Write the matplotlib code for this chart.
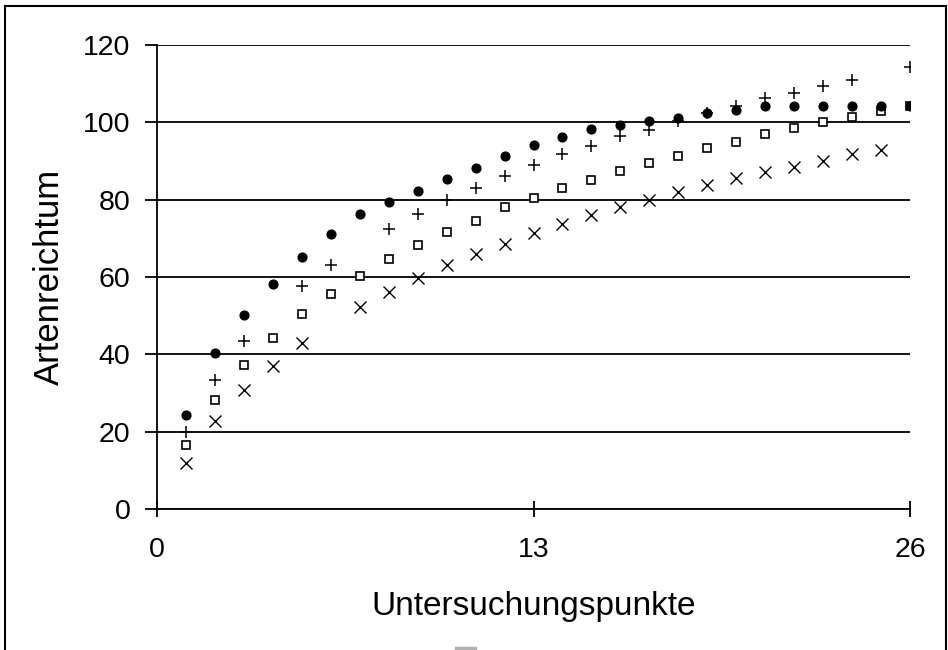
import numpy as np
import matplotlib
matplotlib.use('Agg')
import matplotlib.pyplot as plt
from matplotlib.patches import Rectangle

plt.rcParams['font.family'] = ['Liberation Sans', 'DejaVu Sans']

# Untersuchungspunkte 1..26
punkte = list(range(1, 27))
nan = np.nan

# four series (nan = no marker drawn)
kreis = [24.4, 40.4, 50.1, 58.3, 65.3, 71.1, 76.2, 79.3, 82.3, 85.3, 88.3, 91.3, 94.1,
         96.2, 98.4, 99.2, 100.3, 101.2, 102.3, 103.2, 104.2, 104.2, 104.2, 104.2, 104.2, 104.3]
plus = [19.9, 33.3, 43.4, nan, 57.6, 63.1, nan, 72.5, 76.4, 80.0, 83.1, 86.1, 88.9,
        91.7, 94.0, 96.4, 98.1, 100.3, 102.3, 104.1, 106.2, 107.5, 109.5, 111.0, nan, 114.3]
quadrat = [16.5, 28.3, 37.2, 44.3, 50.5, 55.5, 60.2, 64.6, 68.4, 71.7, 74.6, 78.0, 80.4,
           82.9, 85.2, 87.3, 89.5, 91.4, 93.3, 95.0, 96.9, 98.5, 100.0, 101.5, 102.8, 104.3]
kreuz = [12.0, 22.7, 30.8, 37.1, 42.9, nan, 52.3, 56.2, 59.8, 63.0, 66.0, 68.6, 71.4,
         73.8, 76.1, 78.1, 80.0, 81.9, 83.8, 85.5, 87.1, 88.5, 90.0, 91.7, 92.9, nan]

x_ticks = [0, 13, 26]
y_ticks = [0, 20, 40, 60, 80, 100, 120]

fig = plt.figure(figsize=(9.48, 6.5), dpi=100)
ax = fig.add_axes([0.1656, 0.2169, 0.7944, 0.7139])

for yt in y_ticks:
    ax.axhline(yt, color='black', lw=1.3, zorder=1)

ax.plot(punkte, kreuz, ls='none', marker='x', ms=8.5, mew=1.0, color='black', zorder=3)
ax.plot(punkte, quadrat, ls='none', marker='s', ms=6, mew=1.2, mfc='white', mec='black', zorder=3)
ax.plot(punkte, plus, ls='none', marker='+', ms=9, mew=1.1, color='black', zorder=4)
ax.plot(punkte, kreis, ls='none', marker='o', ms=6.3, color='black', zorder=5)

ax.set_xlim(0, 26)
ax.set_ylim(0, 120)
ax.set_xticks(x_ticks)
ax.set_yticks(y_ticks)
ax.tick_params(axis='y', direction='out', length=9, width=1.3, labelsize=20.5, pad=10)
ax.tick_params(axis='x', direction='inout', length=12, width=1.3, labelsize=20.5, pad=14)

for s in ['top', 'right']:
    ax.spines[s].set_visible(False)
ax.spines['left'].set_linewidth(1.3)
ax.spines['bottom'].set_linewidth(1.3)

ax.set_xlabel('Untersuchungspunkte', fontsize=24, labelpad=20)
ax.set_ylabel('Artenreichtum', fontsize=25, labelpad=12)

# chart frame (open at the bottom) and the clipped grey patch below the label
fig.add_artist(plt.Line2D([0.0055, 0.0055], [0.0, 0.991], color='black', lw=1.5))
fig.add_artist(plt.Line2D([0.0055, 0.998], [0.991, 0.991], color='black', lw=1.5))
fig.add_artist(plt.Line2D([0.998, 0.998], [0.0, 0.991], color='black', lw=1.5))
fig.patches.append(Rectangle((0.48, 0.0), 0.022, 0.005, transform=fig.transFigure,
                             color='#b0b0b0'))

fig.savefig('out.png', dpi=100)
